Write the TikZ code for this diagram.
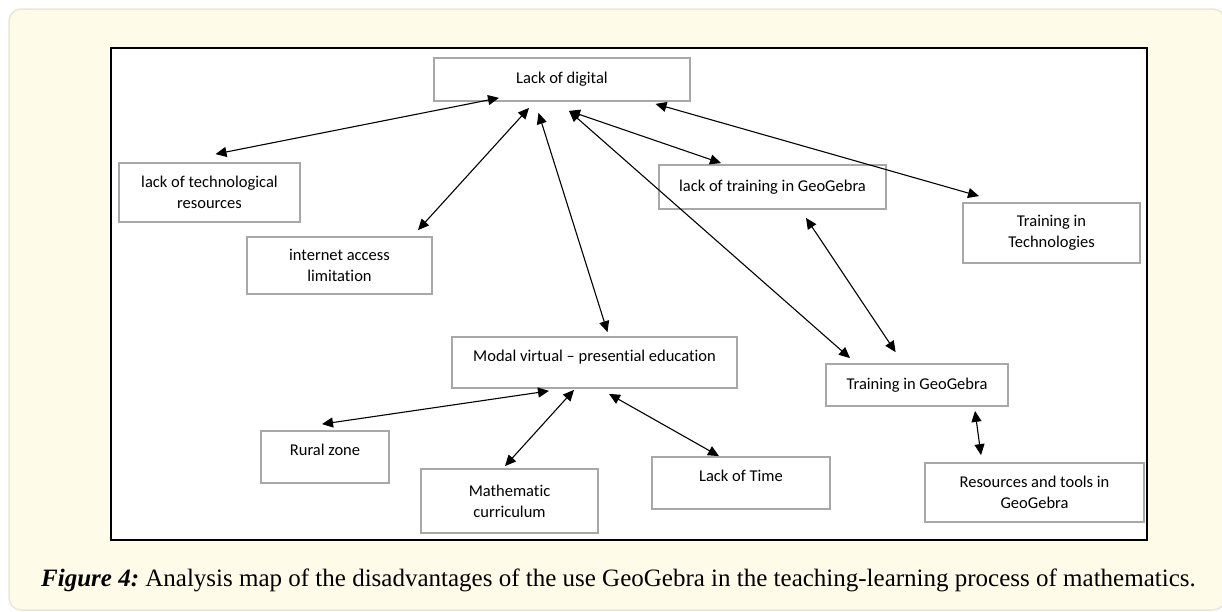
\documentclass[tikz,border=0pt]{standalone}
\usepackage{fontspec}
\setmainfont{Liberation Serif}
\newfontfamily\mapfont[Ligatures=NoCommon]{Carlito}
\usepackage{tikz}
\usetikzlibrary{arrows.meta, positioning, calc}
\frenchspacing

\definecolor{panelcream}{HTML}{FFFBE9}
\definecolor{panelrim}{HTML}{E9E7DC}
\definecolor{boxgray}{HTML}{A8A8A8}

\begin{document}
\begin{tikzpicture}[x=1pt, y=-1pt,
  box/.style={draw=boxgray, line width=1.8pt, fill=white, align=center,
    font=\mapfont\fontsize{16.5}{21}\selectfont, inner sep=0pt},
  raised/.style={text height=11pt, text depth=14pt},
  link/.style={{Triangle[length=11pt,width=10pt]}-{Triangle[length=11pt,width=10pt]},
    line width=1.1pt}
]
  \useasboundingbox (0,0) rectangle (1222,611);

  %% Panel and frame
  \fill[panelcream, draw=panelrim, line width=1.5pt, rounded corners=12pt]
    (9,9) rectangle (1225,610);
  \draw[line width=2.4pt, fill=white] (110.7,47.7) rectangle (1146.8,540);

  %% Boxes
  \node[box, minimum width=256pt, minimum height=43pt] (digital)   at (562,79.5)   {Lack of digital};
  \node[box, minimum width=181pt, minimum height=59pt] (techres)   at (209.5,192.5) {lack of technological\\resources};
  \node[box, minimum width=185pt, minimum height=57pt] (internet)  at (339.5,265.5) {internet access\\limitation};
  \node[box, minimum width=227pt, minimum height=44pt] (lacktrain) at (772.5,187)   {lack of training in GeoGebra};
  \node[box, minimum width=177pt, minimum height=60pt] (traintech) at (1051.5,233)  {Training in\\Technologies};
  \node[box, raised, minimum width=285pt, minimum height=51pt] (modal) at (594.5,362.5) {Modal virtual \textendash\ presential education};
  \node[box, minimum width=182pt, minimum height=42pt] (traingeo)  at (917,385)     {Training in GeoGebra};
  \node[box, raised, minimum width=128pt, minimum height=52pt] (rural) at (325,457) {Rural zone};
  \node[box, minimum width=177pt, minimum height=64pt] (mathcur)   at (509.5,501)   {Mathematic\\curriculum};
  \node[box, raised, minimum width=178pt, minimum height=52pt] (lacktime) at (741,483) {Lack of Time};
  \node[box, minimum width=219pt, minimum height=59pt] (toolsgeo)  at (1034.5,492.5) {Resources and tools in\\GeoGebra};

  %% Links from the top box
  \draw[link] ([xshift=-63pt, yshift=4pt]digital.south)   -- ([xshift=6pt, yshift=8pt]techres.north);
  \draw[link] ([xshift=-33pt, yshift=-6pt]digital.south)  -- ([xshift=78.5pt, yshift=6pt]internet.north);
  \draw[link] ([xshift=-23.5pt, yshift=-11pt]digital.south) -- ([xshift=13pt, yshift=4pt]modal.north);
  \draw[link] ([xshift=7pt, yshift=-9pt]digital.south)    -- ([xshift=-51.5pt, yshift=1pt]lacktrain.north);
  \draw[link] ([xshift=7pt, yshift=-9pt]digital.south)    -- ([xshift=-67pt, yshift=5pt]traingeo.north);
  \draw[link] ([xshift=93.5pt, yshift=-2pt]digital.south) -- ([xshift=-72.5pt, yshift=6pt]traintech.north);

  %% Links on the right
  \draw[link] ([xshift=33.5pt, yshift=-8pt]lacktrain.south) -- ([xshift=-21.4pt, yshift=11pt]traingeo.north);
  \draw[link] ([xshift=58pt, yshift=-4pt]traingeo.south)    -- ([xshift=-53.5pt, yshift=7pt]toolsgeo.north);

  %% Links below the modal box
  \draw[link] ([xshift=-45.5pt, yshift=-2pt]modal.south) -- ([xshift=-3pt, yshift=6pt]rural.north);
  \draw[link] ([xshift=-20.5pt, yshift=-1pt]modal.south) -- ([xshift=-4.5pt, yshift=2pt]mathcur.north);
  \draw[link] ([xshift=14.5pt, yshift=-5pt]modal.south)  -- ([xshift=-22pt, yshift=0pt]lacktime.north);

  %% Caption
  \node[anchor=west, inner sep=0pt, font=\fontsize{25}{30}\selectfont] (caption) at (41,580)
    {\textbf{\textit{Figure 4:}} Analysis map of the disadvantages of the use GeoGebra in the teaching-learning process of mathematics.};
\end{tikzpicture}
\end{document}
